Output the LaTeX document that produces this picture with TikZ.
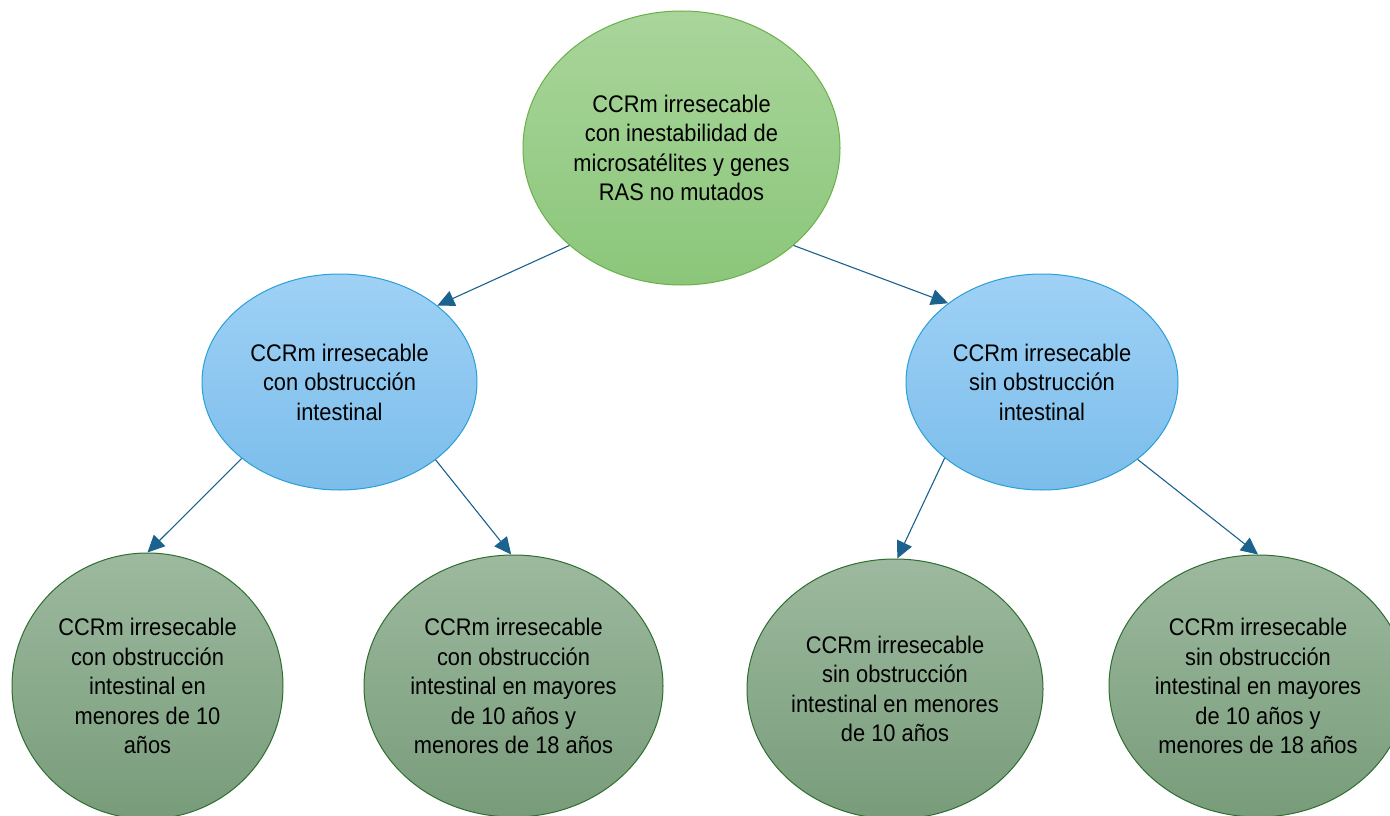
\documentclass[tikz,border=0pt]{standalone}
\usepackage{fontspec}
\setmainfont{Liberation Sans}[FakeStretch=0.91]
\usetikzlibrary{shapes.geometric,arrows.meta}
\definecolor{gtop}{HTML}{A9D59B}
\definecolor{gbot}{HTML}{8BC67A}
\definecolor{gline}{HTML}{6AB04A}
\definecolor{btop}{HTML}{9FD1F5}
\definecolor{bbot}{HTML}{7BBDEB}
\definecolor{bline}{HTML}{2A9FD8}
\definecolor{dtop}{HTML}{9DB99F}
\definecolor{dbot}{HTML}{789C7A}
\definecolor{dline}{HTML}{2E6E30}
\definecolor{arrowc}{HTML}{1B628E}
\tikzset{
  ov/.style={ellipse, draw, inner sep=0pt, align=center, line width=1pt,
    font=\fontsize{24}{29.5}\selectfont, text=black},
  greenov/.style={ov, top color=gtop, bottom color=gbot, draw=gline},
  blueov/.style={ov, top color=btop, bottom color=bbot, draw=bline},
  darkov/.style={ov, top color=dtop, bottom color=dbot, draw=dline},
  conn/.style={draw=arrowc, line width=1.1pt, -{Triangle[length=17pt,width=16pt]}}
}
\begin{document}
\begin{tikzpicture}[x=1pt,y=-1pt]
\useasboundingbox (0,0) rectangle (1390,816);
\fill[white] (0,0) rectangle (1390,816);
\clip (0,0) rectangle (1390,816);
\node[greenov, minimum width=317pt, minimum height=274pt] (top) at (681.5,148)
  {CCRm irresecable\\con inestabilidad de\\microsatélites y genes\\RAS no mutados};
\node[blueov, minimum width=275pt, minimum height=216pt] (L) at (339.5,382)
  {CCRm irresecable\\con obstrucción\\intestinal};
\node[blueov, minimum width=272pt, minimum height=216pt] (R) at (1042,382)
  {CCRm irresecable\\sin obstrucción\\intestinal};
\node[darkov, minimum width=271pt, minimum height=266pt] (B1) at (147.5,686)
  {CCRm irresecable\\con obstrucción\\intestinal en\\menores de 10\\años};
\node[darkov, minimum width=299pt, minimum height=262pt] (B2) at (513.5,686)
  {CCRm irresecable\\con obstrucción\\intestinal en mayores\\de 10 años y\\menores de 18 años};
\node[darkov, minimum width=296pt, minimum height=260pt] (B3) at (895,689)
  {CCRm irresecable\\sin obstrucción\\intestinal en menores\\de 10 años};
\node[darkov, minimum width=298pt, minimum height=262pt] (B4) at (1258,686)
  {CCRm irresecable\\sin obstrucción\\intestinal en mayores\\de 10 años y\\menores de 18 años};
\draw[conn] (top.221) -- (L.38.7);
\draw[conn] (top.319) -- (R.140.8);
\draw[conn] (L.218.3) -- (B1.90);
\draw[conn] (L.321.7) -- (B2.91);
\draw[conn] (R.218.4) -- (B3.89);
\draw[conn] (R.321.3) -- (B4.90);
\end{tikzpicture}
\end{document}
